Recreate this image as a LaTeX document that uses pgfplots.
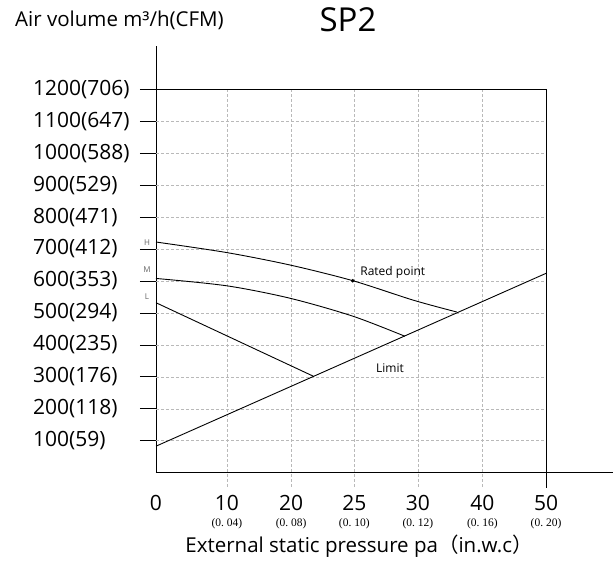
\documentclass[border=0pt]{standalone}
\usepackage{pgfplots}
\pgfplotsset{compat=1.18}
\usepackage{fontspec}
\setmainfont{Open Sans}
\newfontfamily\cjk{Noto Sans CJK SC}
\newfontfamily\subf{Liberation Serif}
\newcommand{\sub}[1]{{\subf\fontsize{11.5}{12}\selectfont #1}}

\begin{document}
\begin{tikzpicture}
  \path[use as bounding box] (-156pt,-90.3pt) rectangle (457pt,472.7pt);

  \tikzset{gridline/.style={gray!55, line width=0.6pt, dash pattern=on 3pt off 2pt}}

  \begin{axis}[
    at={(0pt,0pt)}, anchor=south west,
    scale only axis,
    width=457pt, height=426.7pt,
    xmin=0, xmax=7.03,
    ymin=0, ymax=1335.5,
    axis lines=left,
    axis line style={-, line width=0.8pt, black},
    clip=false,
    tick align=outside,
    major tick length=16pt,
    ytick={100,200,...,1200},
    yticklabels={100(59),200(118),300(176),400(235),500(294),600(353),
                 700(412),800(471),900(529),1000(588),1100(647),1200(706)},
    ytick style={line width=0.8pt, black},
    yticklabel style={anchor=west, inner sep=0pt, xshift=-107pt,
                      font=\fontsize{21}{24}\selectfont},
    xtick={0,1.09,2.08,3.05,4.03,5.02,6},   % 0,10,20,25,30,40,50 Pa
    xticklabels={0,
      {10\\[-6pt]\sub{(0.\ 04)}},
      {20\\[-6pt]\sub{(0.\ 08)}},
      {25\\[-6pt]\sub{(0.\ 10)}},
      {30\\[-6pt]\sub{(0.\ 12)}},
      {40\\[-6pt]\sub{(0.\ 16)}},
      {50\\[-6pt]\sub{(0.\ 20)}}},
    xtick style={draw=none},
    xticklabel style={align=center, anchor=north, inner sep=0pt, yshift=-6pt,
                      font=\fontsize{21}{22}\selectfont},
  ]
    % grid, stops at the right border
    \pgfplotsinvokeforeach{100,200,...,1100}{
      \draw[gridline] (axis cs:0,#1) -- (axis cs:6,#1);
    }
    \pgfplotsinvokeforeach{1.09,2.08,3.05,4.03,5.02}{
      \draw[gridline] (axis cs:#1,1200) -- ([yshift=-15pt]axis cs:#1,0);
    }
    \draw[line width=0.8pt] (axis cs:0,1200) -- (axis cs:6,1200)
      -- ([yshift=-15pt]axis cs:6,0);

    % H
    \addplot[black, line width=0.9pt, smooth] coordinates {
      (0,722) (1.088,689) (2.062,650) (3.026,601) (3.958,540) (4.626,503)};
    % M
    \addplot[black, line width=0.9pt, smooth] coordinates {
      (0,608) (1.088,585) (2.062,546) (3.026,490) (3.83,427)};
    % L
    \addplot[black, line width=0.9pt] coordinates {(0,532) (2.42,302)};
    % limit
    \addplot[black, line width=0.9pt] coordinates {(0,83) (6,624)};
    % rated point
    \addplot[only marks, mark=*, mark size=1.6pt, black] coordinates {(3.026,601)};

    \node[anchor=west, font=\fontsize{12}{14}\selectfont] at (axis cs:3.09,628) {Rated point};
    \node[font=\fontsize{12}{14}\selectfont] at (axis cs:3.6,328) {Limit};
    \node[font=\fontsize{8}{9}\selectfont, text=gray!80!black] at ([xshift=-9pt]axis cs:0,719) {H};
    \node[font=\fontsize{8}{9}\selectfont, text=gray!80!black] at ([xshift=-9pt]axis cs:0,634) {M};
    \node[font=\fontsize{8}{9}\selectfont, text=gray!80!black] at ([xshift=-9pt]axis cs:0,550) {L};
  \end{axis}

  \node[anchor=base west, inner sep=0pt, font=\fontsize{20.5}{24}\selectfont]
    at (-141pt,445.7pt) {Air volume m³/h(CFM)};
  \node[anchor=base, inner sep=0pt, font=\fontsize{33}{36}\selectfont]
    at (192pt,440.7pt) {SP2};
  \node[anchor=base, inner sep=0pt, font=\fontsize{20.5}{24}\selectfont]
    at (203pt,-79.3pt) {External static pressure pa{\cjk （}in.w.c{\cjk ）}};
\end{tikzpicture}
\end{document}
